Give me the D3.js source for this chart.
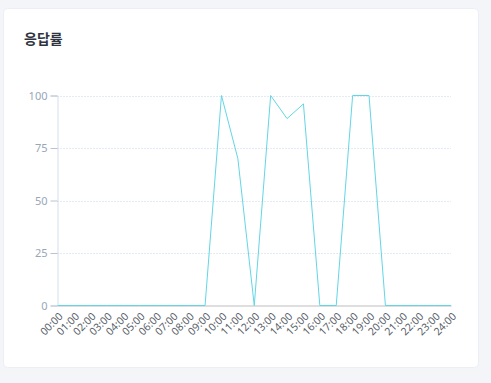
<!DOCTYPE html>
<html>
<head>
<meta charset="utf-8">
<script src="https://cdn.jsdelivr.net/npm/d3@7"></script>
<style>
    body { margin: 0; background: #f4f5f9; font-family: "Noto Sans", "Noto Sans CJK KR", sans-serif; }
    svg { display: block; }
</style>
</head>
<body>
<svg id="chart" width="491" height="383"></svg>
<script>
// data
const hours = d3.range(0, 25).map(h => String(h).padStart(2, "0") + ":00");
const rates = [0, 0, 0, 0, 0, 0, 0, 0, 0, 0, 100, 70, 0, 100, 89, 96, 0, 0, 100, 100, 0, 0, 0, 0, 0];
const yTicks = [0, 25, 50, 75, 100];

const svg = d3.select("#chart");

// card
svg.append("rect")
    .attr("x", 3.5).attr("y", 8.5)
    .attr("width", 475).attr("height", 359)
    .attr("rx", 4)
    .attr("fill", "#fff")
    .attr("stroke", "#eceef4");

svg.append("text")
    .attr("x", 24).attr("y", 44)
    .attr("font-family", "'Noto Sans CJK KR', sans-serif")
    .attr("font-size", 14)
    .attr("font-weight", "bold")
    .attr("fill", "#2f3440")
    .text("응답률");

const x = d3.scalePoint().domain(hours).range([57.5, 451]);
const y = d3.scaleLinear().domain([0, 100]).range([305.5, 95.5]);

// grid
svg.append("g")
    .selectAll("line")
    .data(yTicks.filter(d => d > 0))
    .join("line")
    .attr("x1", 57.5).attr("x2", 451)
    .attr("y1", d => Math.round(y(d)) + 0.5).attr("y2", d => Math.round(y(d)) + 0.5)
    .attr("stroke", "#c9d6e8")
    .attr("stroke-dasharray", "1,2");

// y axis
const yAxis = svg.append("g")
    .attr("transform", "translate(57.5,0)")
    .call(d3.axisLeft(y).tickValues(yTicks).tickSize(7).tickPadding(3));
yAxis.select(".domain").attr("stroke", "#d3dfea");
yAxis.selectAll(".tick line").attr("stroke", "#b8c4d2");
yAxis.selectAll("text")
    .attr("fill", "#98a6b8")
    .attr("font-size", 11)
    .attr("font-family", "'Noto Sans', sans-serif");

// x axis
const xAxis = svg.append("g")
    .attr("transform", "translate(0,305.5)")
    .call(d3.axisBottom(x).tickSize(0).tickPadding(0));
xAxis.select(".domain").attr("stroke", "#bdbdbd");
xAxis.selectAll("text")
    .attr("fill", "#5a5f6a")
    .attr("font-size", 10.5)
    .attr("font-family", "'Noto Sans', sans-serif")
    .attr("text-anchor", "end")
    .attr("x", 0).attr("y", 0)
    .attr("dy", "0.35em")
    .attr("transform", "translate(3,9) rotate(-45)");

// line
const line = d3.line()
    .x((d, i) => x(hours[i]))
    .y(d => y(d));

svg.append("path")
    .datum(rates)
    .attr("d", line)
    .attr("fill", "none")
    .attr("stroke", "#62d6e6")
    .attr("stroke-width", 1);
</script>
</body>
</html>
